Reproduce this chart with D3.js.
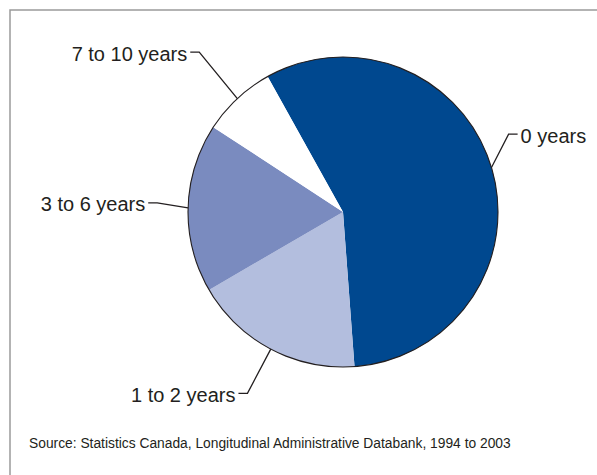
<!DOCTYPE html>
<html>
<head>
<meta charset="utf-8">
<script src="https://cdn.jsdelivr.net/npm/d3@7"></script>
<style>
  html, body { margin: 0; padding: 0; background: #fff; }
  svg { display: block; font-family: "Liberation Sans", Arial, Helvetica, sans-serif; }
</style>
</head>
<body>
<svg id="chart" width="597" height="475"></svg>
<script>
// Years categories and their shares (%)
const categories = ["0 years", "1 to 2 years", "3 to 6 years", "7 to 10 years"];
const shares = [56.9, 17.8, 17.6, 7.7];
const sourceNote = "Source: Statistics Canada, Longitudinal Administrative Databank, 1994 to 2003";

const colors = ["#00488f", "#b3bede", "#7a8bbf", "#ffffff"];

// leader-line elbow distance beyond the rim, and small angular nudge (deg)
const leaderLayout = {
  "0 years":       { out: 28, nudge: -8.5, side: "right" },
  "1 to 2 years":  { out: 50, nudge: 0,    side: "left" },
  "3 to 6 years":  { out: 31, nudge: 1.3,  side: "left" },
  "7 to 10 years": { out: 60, nudge: 1,    side: "left" }
};

const W = 597, H = 475;
const cx = 343, cy = 212, r = 155;
const svg = d3.select("#chart");

// frame: top and left rules
svg.append("path")
  .attr("d", `M10,${H} L10,10 L${W},10`)
  .attr("fill", "none")
  .attr("stroke", "#9a9a9a")
  .attr("stroke-width", 1.5);

const data = categories.map((c, i) => ({ cat: c, value: shares[i], color: colors[i] }));

const start = -29.1 * Math.PI / 180;
const pie = d3.pie().sort(null).value(d => d.value)
  .startAngle(start).endAngle(start + 2 * Math.PI);
const arcs = pie(data);
const arc = d3.arc().innerRadius(0).outerRadius(r);

const g = svg.append("g").attr("transform", `translate(${cx},${cy})`);

g.selectAll("path.slice")
  .data(arcs)
  .join("path")
  .attr("class", "slice")
  .attr("d", arc)
  .attr("fill", d => d.data.color);

// outer rim
g.append("circle")
  .attr("r", r)
  .attr("fill", "none")
  .attr("stroke", "#231f20")
  .attr("stroke-width", 1.1);

// leader lines and labels
const pt = (ang, rad) => [Math.sin(ang) * rad, -Math.cos(ang) * rad];

arcs.forEach(a => {
  const lay = leaderLayout[a.data.cat];
  const mid = (a.startAngle + a.endAngle) / 2;
  const p0 = pt(mid, r);
  const p1 = pt(mid + lay.nudge * Math.PI / 180, r + lay.out);
  const dir = lay.side === "right" ? 1 : -1;
  const p2 = [p1[0] + dir * 9, p1[1]];
  g.append("path")
    .attr("d", d3.line()([p0, p1, p2]))
    .attr("fill", "none")
    .attr("stroke", "#231f20")
    .attr("stroke-width", 1.3);
  g.append("text")
    .attr("x", p2[0] + dir * 3)
    .attr("y", p2[1] + 1.5)
    .attr("dy", "0.35em")
    .attr("text-anchor", dir > 0 ? "start" : "end")
    .attr("font-size", 20)
    .attr("fill", "#231f20")
    .text(a.data.cat);
});

svg.append("text")
  .attr("x", 29)
  .attr("y", 448)
  .attr("font-size", 13.8)
  .attr("fill", "#231f20")
  .text(sourceNote);
</script>
</body>
</html>
